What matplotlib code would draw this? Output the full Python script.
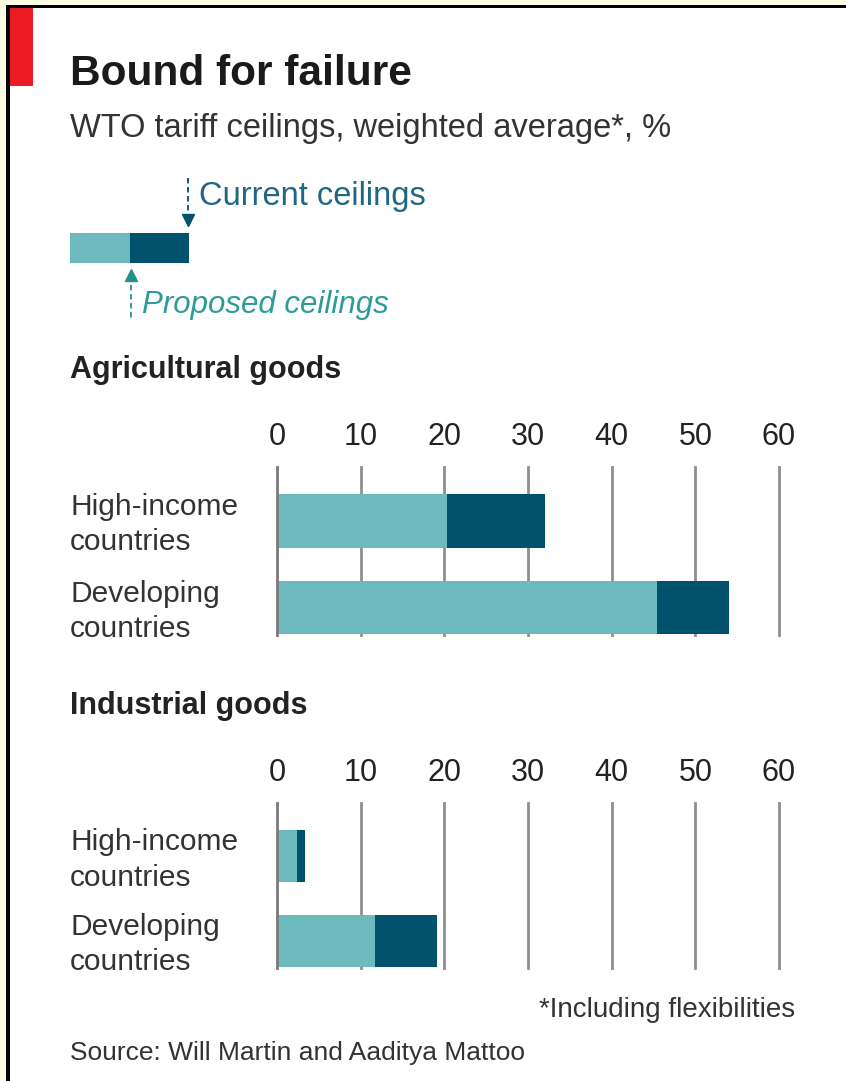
import numpy as np
import matplotlib.pyplot as plt
from matplotlib.patches import Rectangle
from matplotlib.lines import Line2D

# Data (tariff ceilings, weighted average, %)
groups = ['High-income\ncountries', 'Developing\ncountries']
agri_proposed = [20.3, 45.4]
agri_current = [32.0, 54.0]
ind_proposed = [2.4, 11.7]
ind_current = [3.4, 19.1]
ticks = [0, 10, 20, 30, 40, 50, 60]

light = '#6DBABE'
dark = '#02526D'
grid_c = '#8E8E8E'

plt.rcParams['font.family'] = ['Liberation Sans', 'DejaVu Sans']

W, H = 846, 1081
fig = plt.figure(figsize=(W / 100, H / 100), dpi=100)
fig.patch.set_facecolor('white')


def fx(x):
    return x / W


def fy(y):
    return 1 - y / H


def box(x0, y0, x1, y1, color):
    fig.add_artist(Rectangle((fx(x0), fy(y1)), (x1 - x0) / W, (y1 - y0) / H,
                             transform=fig.transFigure, color=color, lw=0))


# frame strips
box(0, 0, W, 5, '#FFFDE4')
box(0, 0, 6, H, '#FFFDE4')
box(6, 5, W, 8, 'black')
box(6, 5, 10, H, 'black')
box(10, 8, 33, 86, '#ED1C24')

fig.text(fx(70), fy(85), 'Bound for failure', fontsize=30.5, fontweight='bold',
         color='#1a1a1a', va='baseline')
fig.text(fx(70), fy(137), 'WTO tariff ceilings, weighted average*, %',
         fontsize=23.5, color='#333333', va='baseline')

# legend sample
box(70, 233, 130, 263, light)
box(130, 233, 189, 263, dark)
fig.add_artist(Line2D([fx(188), fx(188)], [fy(178), fy(220)], transform=fig.transFigure,
                      color=dark, lw=1.3, ls=(0, (3, 2))))
fig.add_artist(Line2D([fx(188)], [fy(220)], transform=fig.transFigure, marker='v',
                      color=dark, markersize=8, lw=0))
fig.text(fx(199), fy(205), 'Current ceilings', fontsize=23.5, color='#1F6783', va='baseline')
fig.add_artist(Line2D([fx(131), fx(131)], [fy(276), fy(318)], transform=fig.transFigure,
                      color='#23918D', lw=1.3, ls=(0, (3, 2))))
fig.add_artist(Line2D([fx(131)], [fy(275)], transform=fig.transFigure, marker='^',
                      color='#23918D', markersize=8, lw=0))
fig.text(fx(142), fy(313), 'Proposed ceilings', fontsize=22.5, style='italic',
         color='#2B9C98', va='baseline')


def panel(top, bottom, title_y, proposed, current, title):
    ax = fig.add_axes([fx(277), fy(bottom), (779 - 277) / W, (bottom - top) / H])
    y = np.arange(len(groups))
    ax.set_xlim(0, 60)
    ax.set_ylim(1.32, -0.625)
    ax.barh(y, current, height=0.62, color=dark, zorder=2)
    ax.barh(y, proposed, height=0.62, color=light, zorder=3)
    for t in ticks[1:]:
        ax.axvline(t, color=grid_c, lw=2, zorder=1, clip_on=False)
    ax.axvline(0, color='#7a7a7a', lw=2, zorder=4, clip_on=False)
    ax.xaxis.tick_top()
    ax.set_xticks(ticks)
    ax.set_xticklabels([str(t) for t in ticks], fontsize=22, color='#222222')
    ax.set_yticks(y - 0.03)
    ax.set_yticklabels(groups, fontsize=21.5, color='#333333', ha='left', linespacing=1.32)
    ax.tick_params(axis='both', length=0)
    ax.tick_params(axis='x', pad=11)
    ax.tick_params(axis='y', pad=(277 - 70) * 0.72)
    for s in ax.spines.values():
        s.set_visible(False)
    ax.patch.set_alpha(0)
    fig.text(fx(70), fy(title_y), title, fontsize=22, fontweight='bold',
             color='#222222', va='baseline')
    return ax


panel(467, 635, 378, agri_proposed, agri_current, 'Agricultural goods')
panel(803, 968, 714, ind_proposed, ind_current, 'Industrial goods')

fig.text(fx(795), fy(1017), '*Including flexibilities', fontsize=20, color='#333333',
         ha='right', va='baseline')
fig.text(fx(70), fy(1060), 'Source: Will Martin and Aaditya Mattoo', fontsize=19,
         color='#333333', va='baseline')

plt.savefig('out.png', dpi=100)
